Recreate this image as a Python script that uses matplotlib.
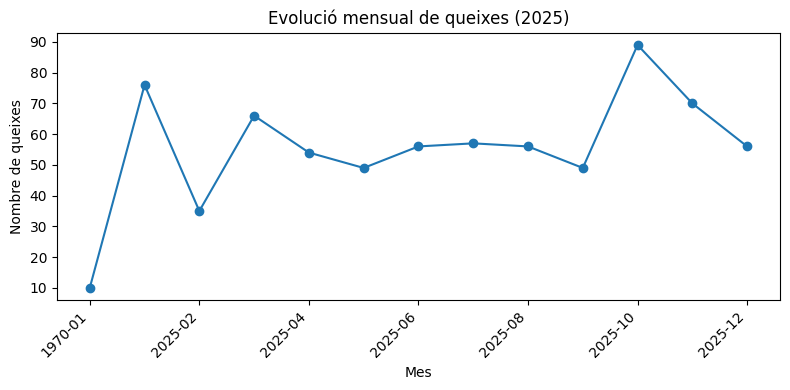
import matplotlib
matplotlib.use("Agg")
import matplotlib.pyplot as plt

# monthly complaints
months = ["1970-01", "2025-01", "2025-02", "2025-03", "2025-04", "2025-05", "2025-06",
          "2025-07", "2025-08", "2025-09", "2025-10", "2025-11", "2025-12"]
counts = [10, 76, 35, 66, 54, 49, 56, 57, 56, 49, 89, 70, 56]

fig, ax = plt.subplots(figsize=(8, 4), dpi=100)
ax.plot(months, counts, marker="o")
ax.set_xticks(range(0, len(months), 2))
ax.set_xticklabels(months[::2], rotation=45, ha="right")
ax.set_title("Evolució mensual de queixes (2025)")
ax.set_xlabel("Mes")
ax.set_ylabel("Nombre de queixes")
ax.set_yticks(range(10, 91, 10))

plt.tight_layout()
plt.savefig("out.png", bbox_inches="tight")
